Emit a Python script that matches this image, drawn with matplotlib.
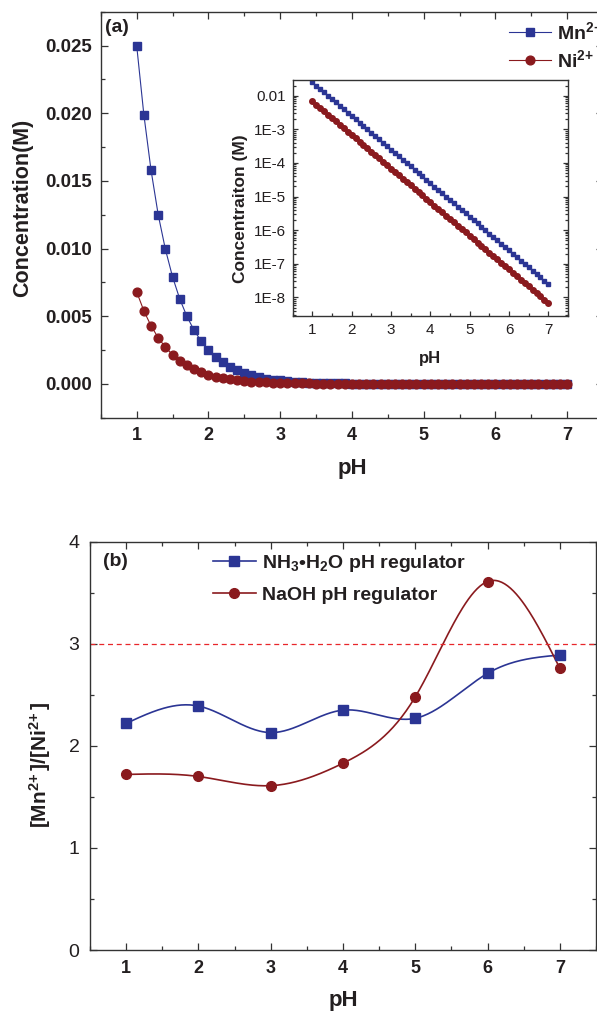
import numpy as np
import matplotlib
matplotlib.use("Agg")
import matplotlib.pyplot as plt
from matplotlib.ticker import MultipleLocator, FixedLocator, FixedFormatter, LogLocator, NullFormatter

plt.rcParams['font.family'] = ['Liberation Sans', 'DejaVu Sans']
plt.rcParams['mathtext.fontset'] = 'custom'
plt.rcParams['mathtext.rm'] = 'Liberation Sans:bold'
plt.rcParams['mathtext.it'] = 'Liberation Sans:bold:italic'
plt.rcParams['mathtext.bf'] = 'Liberation Sans:bold'
plt.rcParams['mathtext.default'] = 'rm'

# ---------------- data ----------------
ph_fine = [1.0, 1.1, 1.2, 1.3, 1.4, 1.5, 1.6, 1.7, 1.8, 1.9,
           2.0, 2.1, 2.2, 2.3, 2.4, 2.5, 2.6, 2.7, 2.8, 2.9,
           3.0, 3.1, 3.2, 3.3, 3.4, 3.5, 3.6, 3.7, 3.8, 3.9,
           4.0, 4.1, 4.2, 4.3, 4.4, 4.5, 4.6, 4.7, 4.8, 4.9,
           5.0, 5.1, 5.2, 5.3, 5.4, 5.5, 5.6, 5.7, 5.8, 5.9,
           6.0, 6.1, 6.2, 6.3, 6.4, 6.5, 6.6, 6.7, 6.8, 6.9,
           7.0]

mn_conc = [2.50e-2, 1.99e-2, 1.58e-2, 1.25e-2, 9.95e-3, 7.91e-3, 6.28e-3, 4.99e-3, 3.96e-3, 3.15e-3,
           2.50e-3, 1.99e-3, 1.58e-3, 1.25e-3, 9.95e-4, 7.91e-4, 6.28e-4, 4.99e-4, 3.96e-4, 3.15e-4,
           2.50e-4, 1.99e-4, 1.58e-4, 1.25e-4, 9.95e-5, 7.91e-5, 6.28e-5, 4.99e-5, 3.96e-5, 3.15e-5,
           2.50e-5, 1.99e-5, 1.58e-5, 1.25e-5, 9.95e-6, 7.91e-6, 6.28e-6, 4.99e-6, 3.96e-6, 3.15e-6,
           2.50e-6, 1.99e-6, 1.58e-6, 1.25e-6, 9.95e-7, 7.91e-7, 6.28e-7, 4.99e-7, 3.96e-7, 3.15e-7,
           2.50e-7, 1.99e-7, 1.58e-7, 1.25e-7, 9.95e-8, 7.91e-8, 6.28e-8, 4.99e-8, 3.96e-8, 3.15e-8,
           2.50e-8]

ni_conc = [6.80e-3, 5.40e-3, 4.29e-3, 3.41e-3, 2.71e-3, 2.15e-3, 1.71e-3, 1.36e-3, 1.08e-3, 8.57e-4,
           6.80e-4, 5.40e-4, 4.29e-4, 3.41e-4, 2.71e-4, 2.15e-4, 1.71e-4, 1.36e-4, 1.08e-4, 8.57e-5,
           6.80e-5, 5.40e-5, 4.29e-5, 3.41e-5, 2.71e-5, 2.15e-5, 1.71e-5, 1.36e-5, 1.08e-5, 8.57e-6,
           6.80e-6, 5.40e-6, 4.29e-6, 3.41e-6, 2.71e-6, 2.15e-6, 1.71e-6, 1.36e-6, 1.08e-6, 8.57e-7,
           6.80e-7, 5.40e-7, 4.29e-7, 3.41e-7, 2.71e-7, 2.15e-7, 1.71e-7, 1.36e-7, 1.08e-7, 8.57e-8,
           6.80e-8, 5.40e-8, 4.29e-8, 3.41e-8, 2.71e-8, 2.15e-8, 1.71e-8, 1.36e-8, 1.08e-8, 8.57e-9,
           6.80e-9]

ph_ratio = [1, 2, 3, 4, 5, 6, 7]
ratio_nh3 = [2.22, 2.39, 2.13, 2.35, 2.27, 2.71, 2.89]
ratio_naoh = [1.72, 1.70, 1.61, 1.83, 2.48, 3.61, 2.76]
ratio_limit = 3.0

main_yticks = [0.000, 0.005, 0.010, 0.015, 0.020, 0.025]
main_yticklabels = ['0.000', '0.005', '0.010', '0.015', '0.020', '0.025']
inset_yticks = [1e-2, 1e-3, 1e-4, 1e-5, 1e-6, 1e-7, 1e-8]
inset_yticklabels = ['0.01', '1E-3', '1E-4', '1E-5', '1E-6', '1E-7', '1E-8']
ph_ticks = [1, 2, 3, 4, 5, 6, 7]
ratio_yticks = [0, 1, 2, 3, 4]

BLUE = '#2B3594'
RED = '#8A1A1E'
TXT = '#231F20'
SPINE = '#333333'


def natural_spline(x, y, n=300):
    x = np.asarray(x, float)
    y = np.asarray(y, float)
    k = len(x)
    h = np.diff(x)
    A = np.zeros((k, k))
    b = np.zeros(k)
    A[0, 0] = 1
    A[-1, -1] = 1
    for i in range(1, k - 1):
        A[i, i - 1] = h[i - 1]
        A[i, i] = 2 * (h[i - 1] + h[i])
        A[i, i + 1] = h[i]
        b[i] = 6 * ((y[i + 1] - y[i]) / h[i] - (y[i] - y[i - 1]) / h[i - 1])
    M = np.linalg.solve(A, b)
    xs = np.linspace(x[0], x[-1], n)
    idx = np.clip(np.searchsorted(x, xs) - 1, 0, k - 2)
    x0, x1 = x[idx], x[idx + 1]
    hh = x1 - x0
    t0 = x1 - xs
    t1 = xs - x0
    ys = (M[idx] * t0 ** 3 / (6 * hh) + M[idx + 1] * t1 ** 3 / (6 * hh)
          + (y[idx] / hh - M[idx] * hh / 6) * t0 + (y[idx + 1] / hh - M[idx + 1] * hh / 6) * t1)
    return xs, ys


W, H = 597, 1013
fig = plt.figure(figsize=(W / 100, H / 100), dpi=100)


def rect(l, r, t, b):
    return [l / W, 1 - b / H, (r - l) / W, (b - t) / H]


def style(ax, right=True, top=True, major=5, minor=3):
    for s in ax.spines.values():
        s.set_color(SPINE)
        s.set_linewidth(1.0)
    ax.tick_params(which='both', direction='in', color=SPINE, width=0.9,
                   right=right, top=top, labelcolor=TXT)
    ax.tick_params(which='major', length=major)
    ax.tick_params(which='minor', length=minor)


# ---------------- panel (a) ----------------
axa = fig.add_axes(rect(100.8, 603, 11.7, 417.7))
axa.plot(ph_fine, mn_conc, color=BLUE, lw=0.8, marker='s', ms=5.6, mec=BLUE, mfc=BLUE,
         label=r'Mn$^{2\!+}$')
axa.plot(ph_fine, ni_conc, color=RED, lw=0.8, marker='o', ms=6.3, mec=RED, mfc=RED,
         label=r'Ni$^{2\!+}$')
axa.set_xlim(0.5, 7.5)
axa.set_ylim(-0.0025, 0.0275)
axa.xaxis.set_major_locator(FixedLocator(ph_ticks))
axa.xaxis.set_minor_locator(MultipleLocator(0.5))
axa.yaxis.set_major_locator(FixedLocator(main_yticks))
axa.yaxis.set_major_formatter(FixedFormatter(main_yticklabels))
axa.yaxis.set_minor_locator(MultipleLocator(0.0025))
style(axa)
axa.tick_params(axis='y', pad=6.5, labelsize=13.5)
axa.tick_params(axis='x', pad=7, labelsize=13)
for lab in axa.get_xticklabels() + axa.get_yticklabels():
    lab.set_fontweight('bold')
axa.set_xlabel('pH', fontsize=16, fontweight='bold', color=TXT)
axa.xaxis.set_label_coords(0.5, -(468 - 417.7) / 406)
axa.xaxis.label.set_va('center')
axa.set_ylabel('Concentration(M)', fontsize=15.5, fontweight='bold', color=TXT)
axa.yaxis.set_label_coords(-(100.8 - 23) / 502.2, 1 - (208 - 11.7) / 406)
axa.yaxis.label.set_va('center')
axa.text((117 - 100.8) / 502.2, 1 - (28 - 11.7) / 406, '(a)', transform=axa.transAxes,
         ha='center', va='center', fontsize=14, fontweight='bold', color=TXT)
lega = axa.legend(loc='upper left', bbox_to_anchor=(509 / W, 1 - 21 / H),
                  bbox_transform=fig.transFigure, frameon=False, borderpad=0,
                  borderaxespad=0, handlelength=2.18, handletextpad=0.3,
                  labelspacing=0.3, prop={'size': 14, 'weight': 'bold'})
for t in lega.get_texts():
    t.set_color(TXT)

# ---------------- inset ----------------
axi = fig.add_axes(rect(292.7, 568, 80, 316))
axi.semilogy(ph_fine, mn_conc, color=BLUE, lw=0.6, marker='s', ms=3.5, mec=BLUE, mfc=BLUE)
axi.semilogy(ph_fine, ni_conc, color=RED, lw=0.6, marker='o', ms=4.0, mec=RED, mfc=RED)
axi.set_xlim(0.5, 7.5)
axi.set_ylim(2.8e-9, 0.0293)
axi.xaxis.set_major_locator(FixedLocator(ph_ticks))
axi.xaxis.set_minor_locator(MultipleLocator(0.5))
axi.yaxis.set_major_locator(FixedLocator(inset_yticks))
axi.yaxis.set_major_formatter(FixedFormatter(inset_yticklabels))
axi.yaxis.set_minor_locator(LogLocator(base=10, subs=np.arange(2, 10), numticks=30))
axi.yaxis.set_minor_formatter(NullFormatter())
style(axi, right=True, top=False, major=3.5, minor=2)
axi.tick_params(labelsize=11, pad=5)
axi.set_xlabel('pH', fontsize=12, fontweight='bold', color=TXT)
axi.xaxis.set_label_coords(0.5, -(359 - 316) / 236)
axi.xaxis.label.set_va('center')
axi.set_ylabel('Concentraiton (M)', fontsize=12.5, fontweight='bold', color=TXT)
axi.yaxis.set_label_coords(-(292.7 - 240) / 275.3, (316 - 209) / 236)
axi.yaxis.label.set_va('center')

# ---------------- panel (b) ----------------
axb = fig.add_axes(rect(90, 596, 541.7, 950))
xs, ys = natural_spline(ph_ratio, ratio_nh3)
axb.plot(xs, ys, color=BLUE, lw=1.2)
xs2, ys2 = natural_spline(ph_ratio, ratio_naoh)
axb.plot(xs2, ys2, color=RED, lw=1.2)
axb.plot(ph_ratio, ratio_nh3, ls='none', marker='s', ms=6.5, color=BLUE)
axb.plot(ph_ratio, ratio_naoh, ls='none', marker='o', ms=7, color=RED)
axb.plot([], [], color=BLUE, lw=1.2, marker='s', ms=6.5, label='NH$_3$\u2022H$_2$O pH regulator')
axb.plot([], [], color=RED, lw=1.2, marker='o', ms=7, label='NaOH pH regulator')
axb.axhline(ratio_limit, color='#E8262A', lw=0.9, ls=(0, (4, 3)))
axb.set_xlim(0.5, 7.5)
axb.set_ylim(0, 4)
axb.xaxis.set_major_locator(FixedLocator(ph_ticks))
axb.xaxis.set_minor_locator(MultipleLocator(0.5))
axb.yaxis.set_major_locator(FixedLocator(ratio_yticks))
axb.yaxis.set_minor_locator(MultipleLocator(0.5))
style(axb)
axb.tick_params(axis='y', labelsize=14, pad=7.5)
axb.tick_params(axis='x', labelsize=13, pad=7)
for lab in axb.get_xticklabels():
    lab.set_fontweight('bold')
axb.set_xlabel('pH', fontsize=16, fontweight='bold', color=TXT)
axb.xaxis.set_label_coords(0.5, -(1000 - 950) / 408.3)
axb.xaxis.label.set_va('center')
axb.set_ylabel(r'[Mn$^{2\!+}$]/[Ni$^{2\!+}$]', fontsize=15, fontweight='bold', color=TXT)
axb.yaxis.set_label_coords(-(90 - 40) / 506, (950 - 765) / 408.3)
axb.yaxis.label.set_va('center')
axb.text((115 - 90) / 506, 1 - (562 - 541.7) / 408.3, '(b)', transform=axb.transAxes,
         ha='center', va='center', fontsize=14, fontweight='bold', color=TXT)
legb = axb.legend(loc='upper left', bbox_to_anchor=(213 / W, 1 - 553 / H),
                  bbox_transform=fig.transFigure, frameon=False, borderpad=0,
                  borderaxespad=0, handlelength=2.2, handletextpad=0.3,
                  labelspacing=0.62, prop={'size': 14, 'weight': 'bold'})
for t in legb.get_texts():
    t.set_color(TXT)

fig.savefig('out.png', dpi=100)
